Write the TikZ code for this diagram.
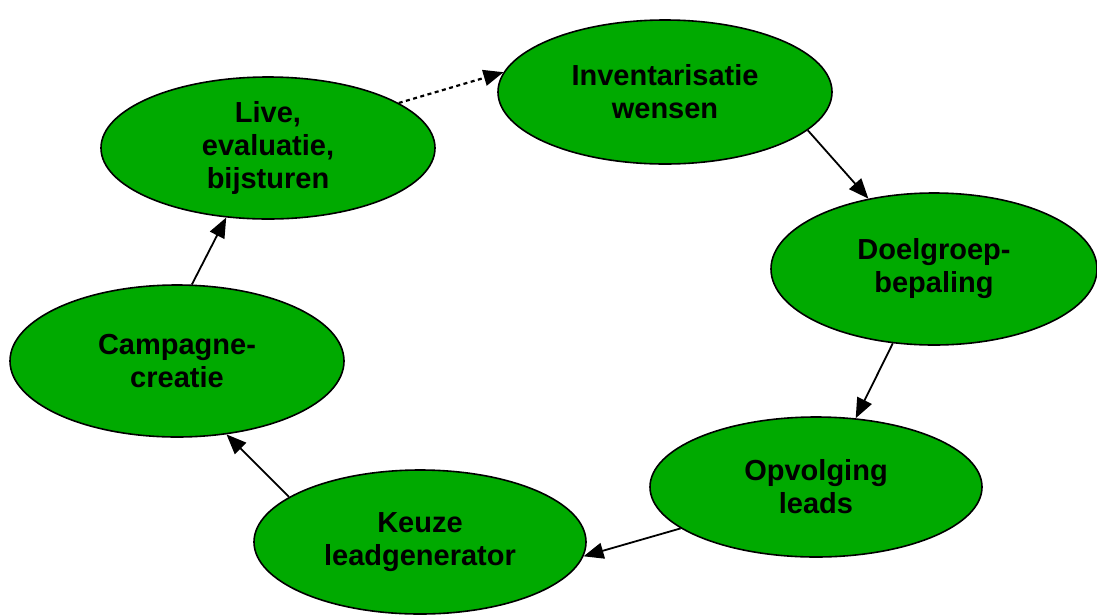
\documentclass[tikz,border=0pt]{standalone}
\usepackage{fontspec}
\setmainfont{Liberation Sans}
\usepackage{tikz}
\usetikzlibrary{arrows.meta,shapes.geometric}
\definecolor{stagegreen}{RGB}{0,170,0}

\begin{document}
\begin{tikzpicture}[x=1pt, y=-1pt]
\tikzstyle{stage}=[draw, line width=1.6pt, fill=stagegreen, shape=ellipse, inner sep=0pt, align=center, font=\fontsize{29}{33}\selectfont\bfseries]
\tikzstyle{flow}=[line width=1.8pt, -{Triangle[length=20pt,width=16pt]}]
\useasboundingbox (0,0) rectangle (1097,614);
\node[stage, minimum width=334pt, minimum height=144pt] (inv) at (665,92) {Inventarisatie\\wensen};
\node[stage, minimum width=326pt, minimum height=152pt] (doel) at (934,269) {Doelgroep-\\bepaling};
\node[stage, minimum width=332pt, minimum height=140pt] (opv) at (816,487) {Opvolging\\leads};
\node[stage, minimum width=332pt, minimum height=144pt] (keuze) at (420,542) {Keuze\\leadgenerator};
\node[stage, minimum width=334pt, minimum height=152pt] (camp) at (177,361) {Campagne-\\creatie};
\node[stage, minimum width=334pt, minimum height=142pt] (live) at (268,148) {Live,\\evaluatie,\\bijsturen};

\draw[flow] (inv.-15.4) to[shorten >=13pt] (doel.133.5);
\draw[flow] (doel.-119.4) to[shorten <=5pt, shorten >=17pt] (opv.60.5);
\draw[flow] (opv.197.3) to[shorten >=7pt] (keuze.-5);
\draw[flow] (keuze.161.1) to[shorten <=7pt, shorten >=9pt] (camp.-56.5);
\draw[flow] (camp.79.1) to[shorten <=2pt, shorten >=11pt] (live.-121.6);
\draw[flow, dash pattern=on 4pt off 3.5pt, line width=2.2pt] (live.19.3) to[shorten <=8pt, shorten >=3pt] (inv.173.2);

\end{tikzpicture}
\end{document}
